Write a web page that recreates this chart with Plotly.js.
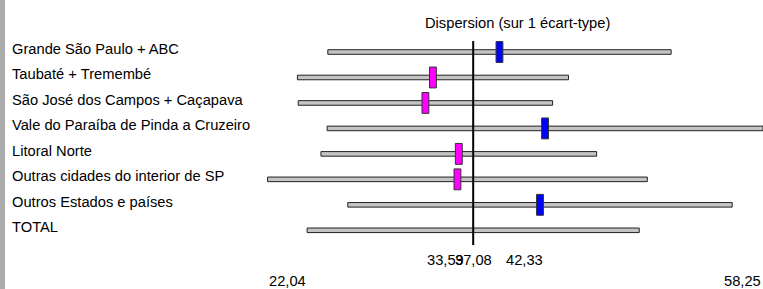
<!DOCTYPE html>
<html>
<head>
<meta charset="utf-8">
<script src="https://cdn.plot.ly/plotly-3.0.1.min.js"></script>
<style>
html,body{margin:0;padding:0;background:#fff;}
#chart{width:763px;height:289px;}
</style>
</head>
<body>
<div id="chart"></div>
<script>
const categories = [
  "Grande São Paulo + ABC",
  "Taubaté + Tremembé",
  "São José dos Campos + Caçapava",
  "Vale do Paraíba de Pinda a Cruzeiro",
  "Litoral Norte",
  "Outras cidades do interior de SP",
  "Outros Estados e países",
  "TOTAL"
];
const means = [39.00, 34.14, 33.59, 42.33, 36.03, 35.93, 41.96, 37.08];
const sds   = [12.54,  9.90,  9.29, 15.92, 10.07, 13.87, 14.04, 12.13];
const totalMean = 37.08;
const scaleValues  = [22.04, 33.59, 37.08, 42.33, 58.25];
const scaleAnchors = ["left", "left", "center", "right", "right"];
const scaleRows    = [1, 0, 0, 0, 1];
const titleText = "Dispersion (sur 1 écart-type)";

const fmt = v => v.toFixed(2).replace('.', ',');
const rows = categories.map((c, i) => i);
const FONT = "Liberation Sans, Arial, sans-serif";
const LABEL_SIZE = 14.7;

// range bars (mean ± 1 sd)
const rangeTrace = {
  type: 'bar', orientation: 'h',
  y: rows,
  base: means.map((m, i) => m - sds[i]),
  x: sds.map(s => 2 * s),
  width: 0.18,
  marker: {color: '#c4c4c4', line: {color: '#222', width: 1}},
  hoverinfo: 'skip', showlegend: false
};

// mean markers (excluding TOTAL)
const mIdx = rows.filter(i => categories[i] !== "TOTAL");
const markW = 0.5;
const meanTrace = {
  type: 'bar', orientation: 'h',
  y: mIdx,
  base: mIdx.map(i => means[i] - markW / 2),
  x: mIdx.map(() => markW),
  width: 0.82,
  marker: {
    color: mIdx.map(i => means[i] >= totalMean ? '#0000ff' : '#ff00ff'),
    line: {color: '#333', width: 1}
  },
  hoverinfo: 'skip', showlegend: false
};

// total mean line
const lineTrace = {
  type: 'scatter', mode: 'lines',
  x: [totalMean, totalMean],
  y: [-0.43, categories.length - 1 + 0.58],
  line: {color: '#000', width: 2},
  hoverinfo: 'skip', showlegend: false
};

const annotations = [];
categories.forEach((c, i) => {
  annotations.push({
    text: c, xref: 'paper', x: 10 / 763, xanchor: 'left',
    yref: 'y', y: i, yanchor: 'middle', yshift: 3,
    showarrow: false, font: {family: FONT, size: LABEL_SIZE, color: '#000'}
  });
});
scaleValues.forEach((v, k) => {
  const top = scaleRows[k] === 0;
  annotations.push({
    text: fmt(v), xref: 'x', x: v, xanchor: scaleAnchors[k],
    yref: 'paper', y: top ? 1 - 260 / 289 : 0, yanchor: top ? 'middle' : 'bottom',
    yshift: top ? 0 : -2,
    showarrow: false, font: {family: FONT, size: LABEL_SIZE, color: '#000'}
  });
});
annotations.push({
  text: titleText, xref: 'paper', x: 517 / 763, xanchor: 'center',
  yref: 'paper', y: 1 - 23 / 289, yanchor: 'middle',
  showarrow: false, font: {family: FONT, size: LABEL_SIZE, color: '#000'}
});

const layout = {
  width: 763, height: 289,
  margin: {l: 0, r: 0, t: 0, b: 0, pad: 0},
  paper_bgcolor: '#fff', plot_bgcolor: '#fff',
  barmode: 'overlay',
  xaxis: {range: [2.515, 58.25], showgrid: false, zeroline: false, showticklabels: false, showline: false, ticks: ''},
  yaxis: {range: [9.305, -2.042], showgrid: false, zeroline: false, showticklabels: false, showline: false, ticks: ''},
  annotations: annotations,
  shapes: [{type: 'rect', xref: 'paper', yref: 'paper', x0: 0, x1: 5 / 763, y0: 0, y1: 1,
            fillcolor: '#ababab', line: {width: 0}, layer: 'below'}],
  showlegend: false
};

Plotly.newPlot('chart', [rangeTrace, meanTrace, lineTrace], layout, {displayModeBar: false, staticPlot: true});
</script>
</body>
</html>
